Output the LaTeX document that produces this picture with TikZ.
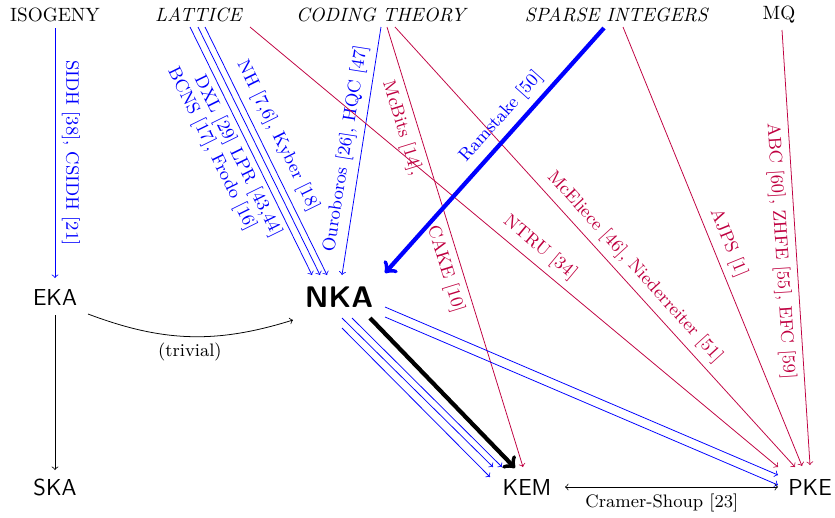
\documentclass[tikz,border=0pt]{standalone}
\usepackage{fontspec}
\usetikzlibrary{calc}
\tikzset{
  lab/.style={font=\fontsize{9.4}{11}\selectfont},
  topl/.style={font=\fontsize{10}{12}\selectfont},
  main/.style={font=\fontsize{12}{14}\selectfont\sffamily},
  bl/.style={blue,->},
  rd/.style={purple,->},
  heavy/.style={->,line width=2.2pt},
}
\begin{document}
\begin{tikzpicture}[x=0.52pt,y=0.52pt]
\useasboundingbox (0,0) rectangle (835,-517);
% top categories
\node[topl] (iso) at (55,-14.5) {ISOGENY};
\node[topl] (lat) at (199,-14.5) {\textit{LATTICE}};
\node[topl] (cod) at (382,-14.5) {\textit{CODING THEORY}};
\node[topl] (spa) at (617,-14.5) {\textit{SPARSE INTEGERS}};
\node[topl] (mq) at (779,-14.5) {MQ};
% primitives
\node[main] (eka) at (55,-297.5) {EKA};
\node[font=\fontsize{15.5}{18}\selectfont\sffamily\bfseries] (nka) at (339,-297.5) {NKA};
\node[main] (ska) at (55,-487) {SKA};
\node[main] (kem) at (527,-487) {KEM};
\node[main] (pke) at (810,-487) {PKE};

% isogeny
\draw[bl] ($(iso)+(0,-13.5)$) -- ($(eka)+(0,19.5)$)
  node[lab,sloped,above,pos=0.5]{SIDH [38], CSIDH [21]};
% lattice -> NKA
\draw[bl] ($(lat)+(-9,-12.5)$) -- ($(nka)+(-27,22.5)$)
  node[lab,sloped,below,pos=0.496,inner ysep=2.6pt]{DXL [29] LPR [43,44]}
  node[lab,sloped,below,pos=0.43,inner ysep=13pt]{BCNS [17], Frodo [16]};
\draw[bl] ($(lat)+(-1,-12.5)$) -- ($(nka)+(-19,22.5)$);
\draw[bl] ($(lat)+(6,-12.5)$) -- ($(nka)+(-12,22.5)$)
  node[lab,sloped,above,pos=0.47,inner ysep=4pt]{NH [7,6], Kyber [18]};
% coding -> NKA
\draw[bl] ($(cod)+(-1,-12.5)$) -- ($(nka)+(3,22.5)$)
  node[lab,sloped,above,pos=0.5]{Ouroboros [26], HQC [47]};
% red edges
\draw[rd] ($(cod)+(5,-12.5)$) -- ($(kem)+(-4,20)$)
  node[lab,sloped,below,pos=0.22]{McBits [14],}
  node[lab,sloped,below,pos=0.54]{CAKE [10]};
\draw[rd] ($(cod)+(13,-12.5)$) -- ($(pke)+(-15,20)$)
  node[lab,sloped,above,pos=0.57]{McEliece [46], Niederreiter [51]};
\draw[rd] ($(lat)+(51,-12.5)$) -- ($(pke)+(-32,20)$)
  node[lab,sloped,above,pos=0.53]{NTRU [34]};
\draw[rd] ($(spa)+(6,-12.5)$) -- ($(pke)+(-8,21)$)
  node[lab,sloped,above,pos=0.506]{AJPS [1]};
\draw[rd] ($(mq)+(3,-15.5)$) -- ($(pke)+(0,22)$)
  node[lab,sloped,below,pos=0.506]{ABC [60], ZHFE [55], EFC [59]};
% sparse -> NKA
\draw[heavy,blue] ($(spa)+(-13,-13.5)$) -- ($(nka)+(46,24.5)$)
  node[lab,sloped,above,pos=0.41]{Ramstake [50]};
% black
\draw[->] ($(eka)+(0,-17.5)$) -- ($(ska)+(0,17)$);
\draw[->] ($(eka)+(33,-16.5)$) to[bend right=19] node[lab,below]{(trivial)} ($(nka)+(-46,-22.5)$);
% NKA -> KEM / PKE
\draw[bl] ($(nka)+(3,-20.5)$) -- ($(kem)+(-34,20)$);
\draw[bl] ($(nka)+(13,-20.5)$) -- ($(kem)+(-25,20)$);
\draw[bl] ($(nka)+(3,-30.5)$) -- ($(kem)+(-37,10)$);
\draw[bl] ($(nka)+(46,-9.5)$) -- ($(pke)+(-32,12)$);
\draw[bl] ($(nka)+(46,-19.5)$) -- ($(pke)+(-32,2)$);
\draw[heavy] ($(nka)+(31,-20.5)$) -- ($(kem)+(-12,19)$);
\draw[<->] ($(kem)+(38,0)$) -- ($(pke)+(-32,0)$)
  node[lab,below,pos=0.455]{Cramer-Shoup [23]};
\end{tikzpicture}
\end{document}
